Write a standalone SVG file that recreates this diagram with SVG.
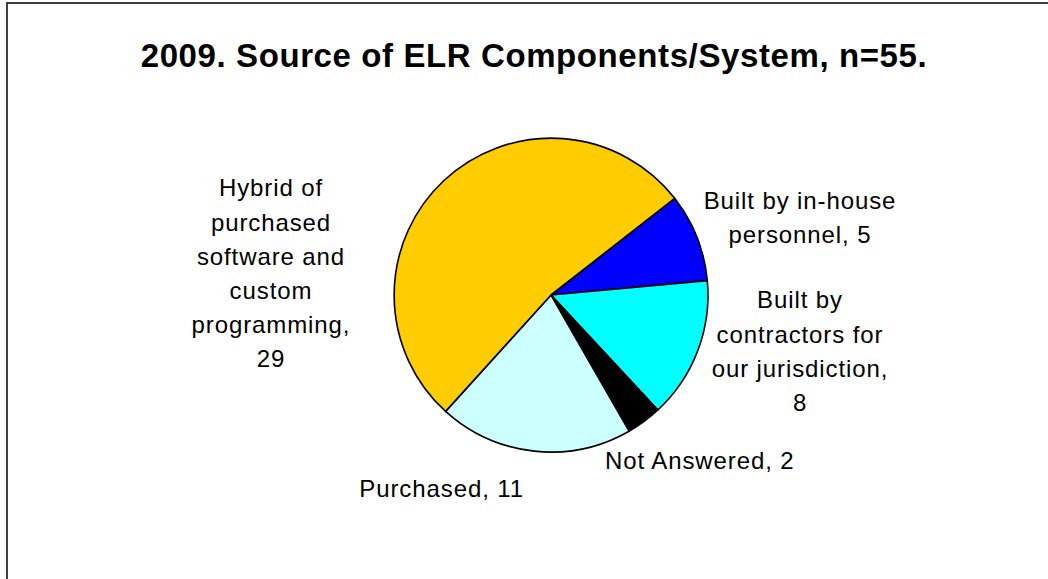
<svg xmlns="http://www.w3.org/2000/svg" width="1048" height="579" viewBox="0 0 1048 579">
<style>
.slice{stroke:#000;stroke-width:1.6;stroke-linejoin:round}
.lbl{font-family:"Liberation Sans",Arial,sans-serif;font-size:24px;letter-spacing:0.9px;fill:#000}
.title{font-family:"Liberation Sans",Arial,sans-serif;font-size:33px;font-weight:bold;letter-spacing:0.6px;fill:#000}
</style>
<rect x="0" y="0" width="1048" height="579" fill="#fff"/>
<rect x="7" y="3" width="1060" height="600" fill="#fff" stroke="#404040" stroke-width="2"/>
<text class="title" x="140.7" y="66.7">2009. Source of ELR Components/System, n=55.</text>
<g id="slices">
<g id="inhouse"><path class="slice" fill="#0000FF" d="M551,295 L674.7,198.3 A157,157 0 0 1 707.3,280.6 Z"/></g>
<g id="contractors"><path class="slice" fill="#00FFFF" d="M551,295 L707.3,280.6 A157,157 0 0 1 657.9,410.0 Z"/></g>
<g id="notanswered"><path class="slice" fill="#000000" d="M551,295 L657.9,410.0 A157,157 0 0 1 629.1,431.2 Z"/></g>
<g id="purchased"><path class="slice" fill="#CCFFFF" d="M551,295 L629.1,431.2 A157,157 0 0 1 445.6,411.4 Z"/></g>
<g id="hybrid"><path class="slice" fill="#FFCC00" d="M551,295 L445.6,411.4 A157,157 0 1 1 674.7,198.3 Z"/></g>
</g>
<g id="label-hybrid" class="lbl" text-anchor="middle">
<text class="lbl" x="271" y="196">Hybrid of</text>
<text class="lbl" x="271" y="230.5">purchased</text>
<text class="lbl" x="271" y="264.5">software and</text>
<text class="lbl" x="271" y="298.7">custom</text>
<text class="lbl" x="271" y="332.7">programming,</text>
<text class="lbl" x="271" y="366.7">29</text>
</g>
<g id="label-inhouse" text-anchor="middle">
<text class="lbl" x="800" y="209">Built by in-house</text>
<text class="lbl" x="800" y="243.3">personnel, 5</text>
</g>
<g id="label-contractors" text-anchor="middle">
<text class="lbl" x="800" y="308.3">Built by</text>
<text class="lbl" x="800" y="342.7">contractors for</text>
<text class="lbl" x="800" y="376.7">our jurisdiction,</text>
<text class="lbl" x="800" y="410.7">8</text>
</g>
<g id="label-notanswered"><text class="lbl" x="605" y="469.3">Not Answered, 2</text></g>
<g id="label-purchased"><text class="lbl" x="359.3" y="496.7">Purchased, 11</text></g>
</svg>
